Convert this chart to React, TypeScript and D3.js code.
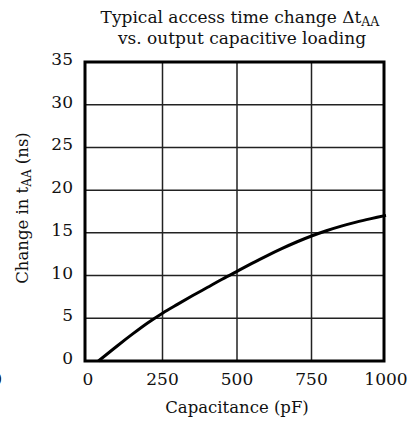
import React from "react";
import * as d3 from "d3";

const capacitance = [35, 100, 150, 200, 250, 300, 350, 400, 450, 500, 550, 600, 650, 700, 750, 800, 850, 900, 950, 1000];
const deltaTaa = [0, 1.82, 3.17, 4.45, 5.6, 6.63, 7.63, 8.6, 9.57, 10.5, 11.42, 12.31, 13.15, 13.93, 14.63, 15.25, 15.79, 16.26, 16.67, 17.05];
const xTicks = [0, 250, 500, 750, 1000];
const yTicks = [0, 5, 10, 15, 20, 25, 30, 35];

const W = 416;
const H = 422;
const FONT = "DejaVu Serif";

export default function App() {
  const x = d3.scaleLinear().domain([0, 1000]).range([88, 386]);
  const y = d3.scaleLinear().domain([0, 35]).range([361, 62]);
  const box = { x0: 85, x1: 384, y0: y(35), y1: y(0) };
  const data = capacitance.map((c, i) => ({ c, v: deltaTaa[i] }));
  const line = d3
    .line<{ c: number; v: number }>()
    .x((d) => x(d.c))
    .y((d) => y(d.v))
    .curve(d3.curveCatmullRom.alpha(0.5));

  return (
    <svg
      width={W}
      height={H}
      style={{ position: "absolute", left: 0, top: 0, background: "#fff" }}
      fontFamily={FONT}
    >
      <rect width={W} height={H} fill="#fff" />
      <text x={240} y={23} textAnchor="middle" fontSize={17} fill="#111">
        Typical access time change Δt
        <tspan fontSize={12.5} dy={3}>AA</tspan>
      </text>
      <text x={242} y={44} textAnchor="middle" fontSize={17} fill="#111">
        vs. output capacitive loading
      </text>

      {xTicks.slice(1, -1).map((t) => (
        <line key={"gx" + t} x1={x(t)} x2={x(t)} y1={box.y0} y2={box.y1} stroke="#222" strokeWidth={1.5} />
      ))}
      {yTicks.slice(1, -1).map((t) => (
        <line key={"gy" + t} x1={box.x0} x2={box.x1} y1={y(t)} y2={y(t)} stroke="#222" strokeWidth={1.5} />
      ))}

      <path d={line(data) || ""} fill="none" stroke="#000" strokeWidth={3} />

      <rect
        x={box.x0}
        y={box.y0}
        width={box.x1 - box.x0}
        height={box.y1 - box.y0}
        fill="none"
        stroke="#000"
        strokeWidth={3}
      />

      {yTicks.map((t) => (
        <text key={"ty" + t} x={73} y={y(t) + 3} textAnchor="end" fontSize={17} fill="#111">
          {t}
        </text>
      ))}
      {xTicks.map((t) => (
        <text key={"tx" + t} x={x(t)} y={385} textAnchor="middle" fontSize={17} fill="#111">
          {t}
        </text>
      ))}
      <text x={2} y={385} textAnchor="end" fontSize={17} fill="#111">0</text>

      <text x={237} y={413} textAnchor="middle" fontSize={16.5} fill="#111">
        Capacitance (pF)
      </text>
      <text
        transform={`translate(28, 208) rotate(-90)`}
        textAnchor="middle"
        fontSize={16.5}
        fill="#111"
      >
        Change in t<tspan fontSize={12} dy={3}>AA</tspan>
        <tspan dy={-3}> (ns)</tspan>
      </text>
    </svg>
  );
}
